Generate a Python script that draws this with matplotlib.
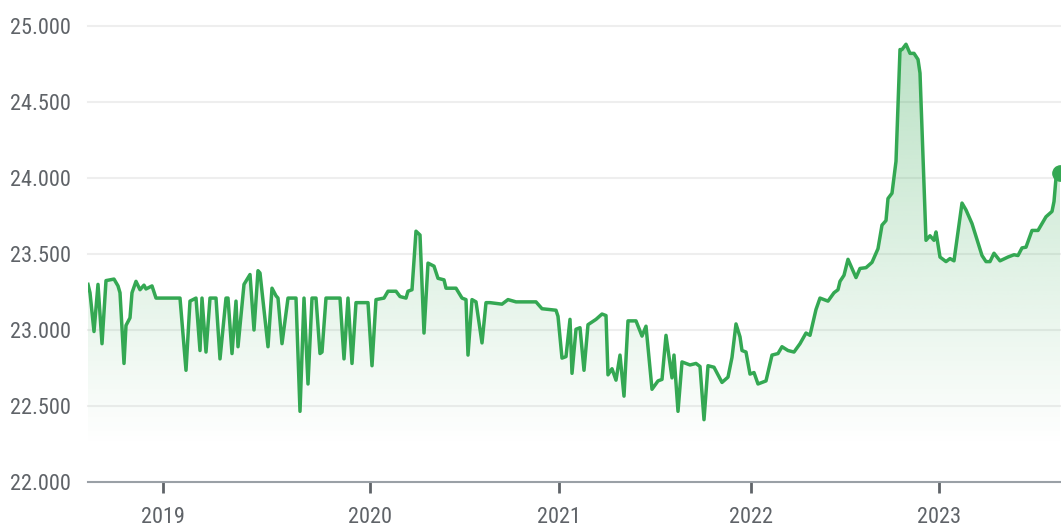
import matplotlib
matplotlib.use("Agg")
import matplotlib.pyplot as plt
import numpy as np

# observation index (non-uniform sampling of the series) and price values
obs = [0, 1, 3, 5, 7, 9, 13, 15, 16, 18, 19, 21, 22, 24, 26, 28, 29, 32, 34, 46,
       49, 51, 54, 56, 57, 59, 61, 64, 66, 69, 70, 72, 74, 75, 78, 81, 83, 85, 86, 90,
       92, 94, 95, 97, 100, 104, 106, 108, 110, 112, 114, 116, 117, 119, 126, 128, 130, 132, 134, 140,
       142, 144, 148, 150, 154, 156, 159, 160, 162, 164, 166, 168, 170, 173, 175, 178, 179, 184, 187, 189,
       190, 192, 194, 197, 199, 201, 207, 210, 214, 224, 227, 234, 235, 237, 239, 241, 242, 244, 246, 248,
       250, 254, 257, 259, 260, 262, 264, 266, 268, 270, 274, 277, 279, 282, 285, 287, 289, 292, 293, 295,
       297, 301, 304, 306, 308, 310, 313, 317, 320, 322, 324, 326, 327, 329, 331, 333, 335, 339, 342, 345,
       347, 350, 353, 356, 359, 361, 364, 366, 370, 373, 375, 376, 378, 380, 384, 386, 389, 392, 395, 397,
       399, 400, 402, 404, 406, 407, 409, 411, 413, 415, 416, 419, 421, 423, 424, 426, 429, 431, 433, 437,
       439, 442, 447, 449, 451, 453, 456, 460, 463, 465, 467, 469, 472, 475, 479, 482, 483, 484, 486]
price = [23300, 23245, 22990, 23300, 22910, 23325, 23335, 23290, 23245, 22780, 23030, 23080, 23245, 23320, 23265, 23295, 23270, 23290, 23210, 23210,
         22735, 23190, 23210, 22865, 23210, 22855, 23210, 23210, 22810, 23210, 23210, 22845, 23190, 22890, 23300, 23365, 23000, 23390, 23375, 22890,
         23275, 23225, 23210, 22910, 23210, 23210, 22465, 23210, 22645, 23210, 23210, 22845, 22855, 23210, 23210, 22810, 23210, 22780, 23180, 23180,
         22765, 23200, 23210, 23255, 23255, 23220, 23210, 23255, 23265, 23650, 23625, 22980, 23440, 23420, 23340, 23330, 23275, 23275, 23210, 23200,
         22835, 23200, 23185, 22915, 23180, 23180, 23170, 23200, 23185, 23185, 23140, 23130, 23090, 22815, 22825, 23070, 22715, 23005, 23015, 22735,
         23035, 23070, 23105, 23095, 22705, 22745, 22670, 22835, 22565, 23060, 23060, 22960, 23025, 22610, 22665, 22675, 22965, 22685, 22835, 22465,
         22790, 22770, 22780, 22760, 22410, 22765, 22755, 22655, 22690, 22820, 23040, 22955, 22865, 22855, 22710, 22720, 22645, 22665, 22835, 22845,
         22890, 22865, 22855, 22910, 22980, 22965, 23135, 23210, 23190, 23245, 23265, 23320, 23360, 23465, 23345, 23405, 23410, 23445, 23535, 23690,
         23720, 23865, 23900, 24110, 24845, 24845, 24880, 24820, 24820, 24780, 24690, 23590, 23620, 23590, 23645, 23480, 23450, 23470, 23455, 23835,
         23790, 23700, 23490, 23450, 23450, 23505, 23455, 23480, 23495, 23490, 23540, 23545, 23655, 23655, 23745, 23780, 23845, 24000, 24030]

year_pos = [37.5, 141, 235.5, 331.5, 425.5]
year_labels = ["2019", "2020", "2021", "2022", "2023"]
y_ticks = [22000, 22500, 23000, 23500, 24000, 24500, 25000]

green = "#34a853"
text_col = "#5f6368"
plt.rcParams["font.family"] = ["Roboto Condensed", "Liberation Sans Narrow", "Roboto", "DejaVu Sans"]

fig = plt.figure(figsize=(10.61, 5.29), dpi=100)
ax = fig.add_axes([88 / 1061, 47 / 529, 973 / 1061, 456 / 529])

x = np.array(obs, dtype=float)
y = np.array(price, dtype=float)
x_max = 486.5
y_min, y_max = 22000, 25000

# gradient fill under the line
fill = ax.fill_between(x, y, y_min, color="none", lw=0)
grad = np.zeros((256, 2, 4))
rgb = matplotlib.colors.to_rgb(green)
grad[:, :, 0], grad[:, :, 1], grad[:, :, 2] = rgb
alpha = np.clip(np.linspace(0.0, 0.38, 256) - 0.03, 0, None)
grad[:, :, 3] = alpha[:, None]
img = ax.imshow(grad, extent=[0, x_max, y_min, y_max], origin="lower",
                aspect="auto", interpolation="bicubic", zorder=1)
img.set_clip_path(fill.get_paths()[0], transform=ax.transData)

ax.plot(x, y, color=green, lw=2.5, zorder=3, solid_joinstyle="round")
ax.plot(x[-1], y[-1], "o", color=green, ms=11, zorder=4, clip_on=False)

ax.set_xlim(0, x_max)
ax.set_ylim(y_min, y_max)
ax.set_yticks(y_ticks)
ax.set_yticklabels([f"{v:,}".replace(",", ".") for v in y_ticks])
ax.set_xticks(year_pos)
ax.set_xticklabels(year_labels)

for v in y_ticks[1:]:
    ax.axhline(v, color="#eeeeee", lw=1.5, zorder=0, clip_on=False)

for s in ["left", "right", "top"]:
    ax.spines[s].set_visible(False)
ax.spines["bottom"].set_color("#9aa0a6")
ax.spines["bottom"].set_linewidth(1.5)
ax.tick_params(axis="y", length=0, pad=12, labelsize=16, labelcolor=text_col)
ax.tick_params(axis="x", length=8, width=2, color="#5f6368", pad=10,
               labelsize=16, labelcolor=text_col)

fig.savefig("out.png", dpi=100)
